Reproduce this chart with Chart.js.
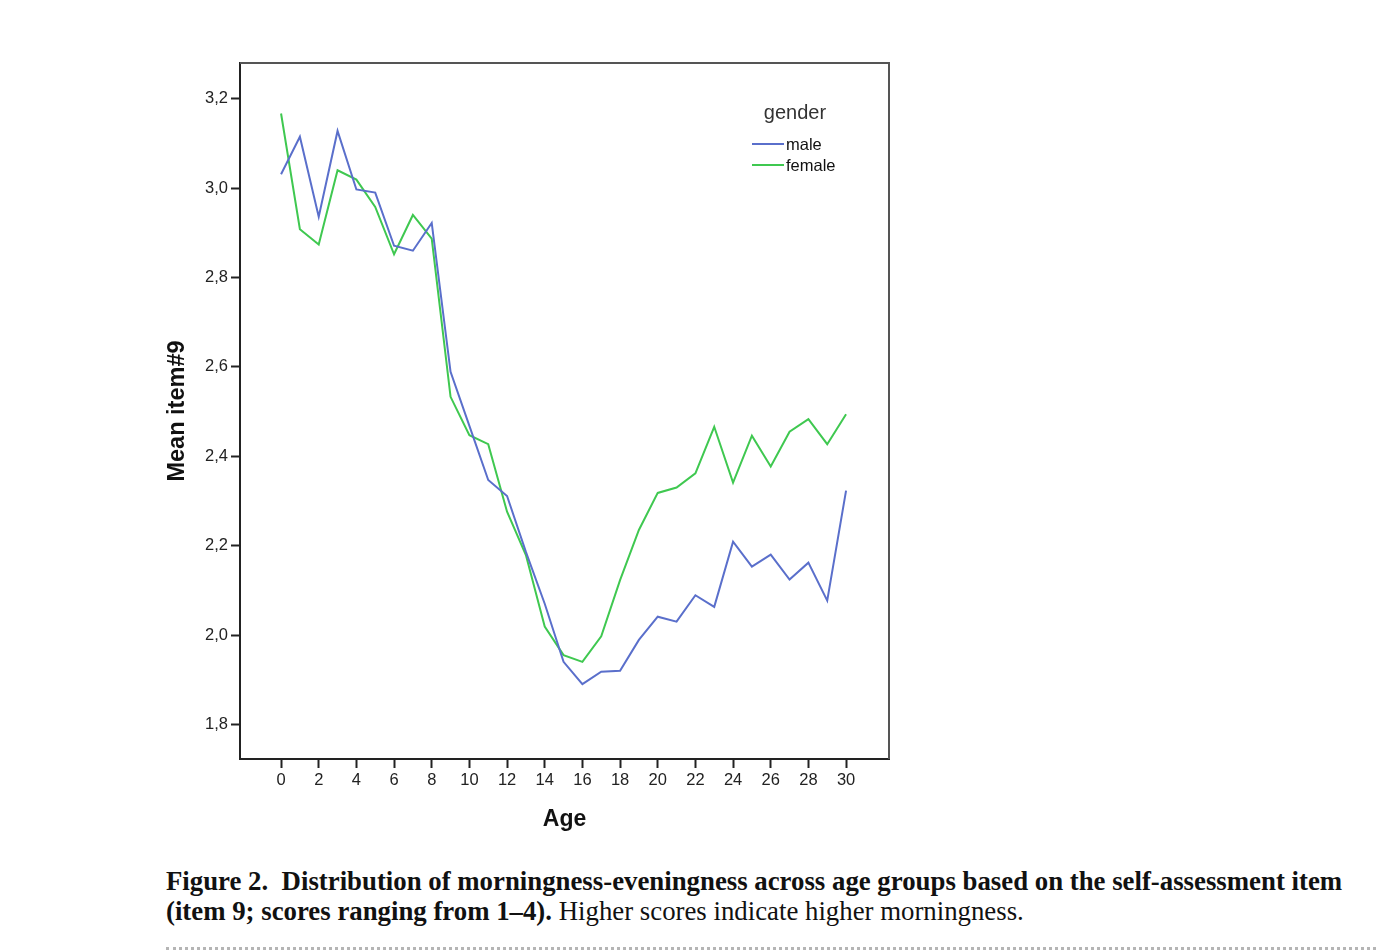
<!DOCTYPE html>
<html lang="en">
<head>
    <meta charset="UTF-8">
    <title>Mean item#9 by age and gender</title>
    <script src="https://cdn.jsdelivr.net/npm/chart.js"></script>
    <style>
        body {
            margin: 0;
            background: #ffffff;
            width: 1376px;
            height: 952px;
            position: relative;
            overflow: hidden;
        }
        #chart {
            position: absolute;
            left: 0;
            top: 0;
        }
        .caption {
            position: absolute;
            left: 166px;
            top: 866px;
            font-family: "Liberation Serif", serif;
            font-size: 26.8px;
            line-height: 30px;
            color: #111;
            white-space: nowrap;
        }
        .caption b { font-weight: bold; }
        .rule {
            position: absolute;
            left: 166px;
            right: 0;
            top: 947px;
            border-top: 3px dotted #b5b5b5;
        }
    </style>
</head>
<body>
    <canvas id="chart" width="1376" height="860"></canvas>
    <div class="caption">
        <b>Figure 2.&nbsp; Distribution of morningness-eveningness across age groups based on the self-assessment item</b><br>
        <b>(item 9; scores ranging from 1–4).</b> Higher scores indicate higher morningness.
    </div>
    <div class="rule"></div>

    <script>
        // values
        const ages = [0, 1, 2, 3, 4, 5, 6, 7, 8, 9, 10, 11, 12, 13, 14, 15,
                      16, 17, 18, 19, 20, 21, 22, 23, 24, 25, 26, 27, 28, 29, 30];
        const male = [3.031, 3.115, 2.936, 3.128, 2.997, 2.990, 2.871, 2.860, 2.922, 2.589,
                      2.468, 2.347, 2.311, 2.186, 2.070, 1.940, 1.890, 1.918, 1.920, 1.989,
                      2.041, 2.030, 2.089, 2.063, 2.209, 2.153, 2.180, 2.124, 2.162, 2.077, 2.323];
        const female = [3.167, 2.908, 2.874, 3.040, 3.019, 2.958, 2.852, 2.940, 2.887, 2.533,
                        2.447, 2.427, 2.276, 2.179, 2.019, 1.955, 1.940, 1.997, 2.123, 2.235,
                        2.318, 2.330, 2.362, 2.466, 2.341, 2.446, 2.377, 2.455, 2.483, 2.427, 2.494];
        const xTicks = [0, 2, 4, 6, 8, 10, 12, 14, 16, 18, 20, 22, 24, 26, 28, 30];
        const yTicks = [1.8, 2.0, 2.2, 2.4, 2.6, 2.8, 3.0, 3.2];
        const yTickLabels = ['1,8', '2,0', '2,2', '2,4', '2,6', '2,8', '3,0', '3,2'];

        const BLUE = '#5a6fcb';
        const GREEN = '#3fc850';

        // box: top + right edges in grey (left/bottom come from the axis borders)
        const framePlugin = {
            id: 'frame',
            afterDraw(chart) {
                const { ctx, chartArea: a } = chart;
                ctx.save();
                ctx.strokeStyle = '#555';
                ctx.lineWidth = 2;
                ctx.beginPath();
                ctx.moveTo(a.left, a.top);
                ctx.lineTo(a.right, a.top);
                ctx.lineTo(a.right, a.bottom);
                ctx.stroke();
                ctx.restore();
            }
        };

        // SPSS-style legend inside the plot box
        const legendPlugin = {
            id: 'spssLegend',
            afterDraw(chart) {
                const { ctx, chartArea: a } = chart;
                const x0 = a.left + 512;
                ctx.save();
                ctx.fillStyle = '#333';
                ctx.font = '20px "Liberation Sans", Arial, sans-serif';
                ctx.textAlign = 'center';
                ctx.textBaseline = 'middle';
                ctx.fillText('gender', x0 + 43, a.top + 50);
                ctx.font = '16.5px "Liberation Sans", Arial, sans-serif';
                ctx.textAlign = 'left';
                chart.data.datasets.forEach((ds, i) => {
                    const y = a.top + 81 + i * 21;
                    ctx.strokeStyle = ds.borderColor;
                    ctx.lineWidth = 2;
                    ctx.beginPath();
                    ctx.moveTo(x0, y);
                    ctx.lineTo(x0 + 32, y);
                    ctx.stroke();
                    ctx.fillStyle = '#111';
                    ctx.fillText(ds.label, x0 + 34, y + 1.5);
                });
                ctx.restore();
            }
        };

        const ctx = document.getElementById('chart').getContext('2d');
        new Chart(ctx, {
            type: 'line',
            data: {
                datasets: [{
                    label: 'male',
                    data: ages.map((a, i) => ({ x: a, y: male[i] })),
                    borderColor: BLUE,
                    borderWidth: 2,
                    pointRadius: 0,
                    tension: 0
                }, {
                    label: 'female',
                    data: ages.map((a, i) => ({ x: a, y: female[i] })),
                    borderColor: GREEN,
                    borderWidth: 2,
                    pointRadius: 0,
                    tension: 0
                }]
            },
            options: {
                responsive: false,
                animation: false,
                layout: {
                    padding: { left: 150, top: 63, right: 487, bottom: 11 }
                },
                plugins: {
                    legend: { display: false },
                    tooltip: { enabled: false }
                },
                scales: {
                    x: {
                        type: 'linear',
                        min: -2.18,
                        max: 32.28,
                        afterFit(scale) { scale.height = 90; },
                        afterBuildTicks(scale) {
                            scale.ticks = xTicks.map(v => ({ value: v }));
                        },
                        grid: {
                            drawOnChartArea: false,
                            tickLength: 9,
                            tickColor: '#222',
                            tickWidth: 2
                        },
                        border: { display: true, color: '#222', width: 2 },
                        ticks: {
                            color: '#222',
                            padding: 3,
                            maxRotation: 0,
                            font: { family: '"Liberation Sans", Arial, sans-serif', size: 16.5 }
                        },
                        title: {
                            display: true,
                            text: 'Age',
                            color: '#111',
                            padding: { top: 0, bottom: 16 },
                            font: { family: '"Liberation Sans", Arial, sans-serif', size: 23, weight: 'bold' }
                        }
                    },
                    y: {
                        min: 1.7226,
                        max: 3.28,
                        afterFit(scale) { scale.width = 90; },
                        afterBuildTicks(scale) {
                            scale.ticks = yTicks.map(v => ({ value: v }));
                        },
                        grid: {
                            drawOnChartArea: false,
                            tickLength: 9,
                            tickColor: '#222',
                            tickWidth: 2
                        },
                        border: { display: true, color: '#222', width: 2 },
                        ticks: {
                            color: '#222',
                            padding: 3,
                            font: { family: '"Liberation Sans", Arial, sans-serif', size: 16.5 },
                            callback: (v) => {
                                const i = yTicks.findIndex(t => Math.abs(t - v) < 1e-6);
                                return i >= 0 ? yTickLabels[i] : '';
                            }
                        },
                        title: {
                            display: true,
                            text: 'Mean item#9',
                            color: '#111',
                            padding: { top: 13, bottom: 0 },
                            font: { family: '"Liberation Sans", Arial, sans-serif', size: 23.5, weight: 'bold' }
                        }
                    }
                }
            },
            plugins: [framePlugin, legendPlugin]
        });
    </script>
</body>
</html>
